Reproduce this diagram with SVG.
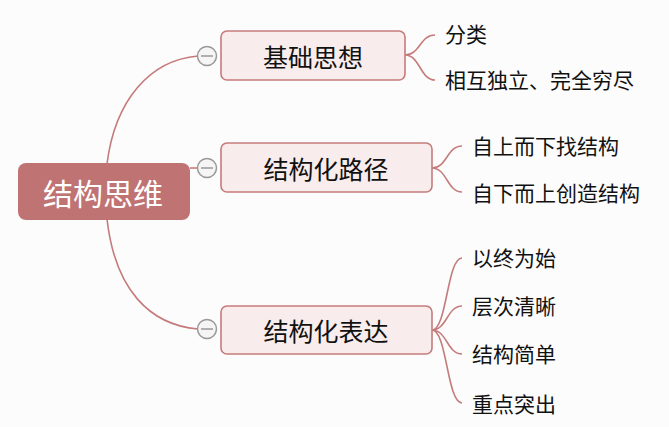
<svg xmlns="http://www.w3.org/2000/svg" width="669" height="427" viewBox="0 0 669 427">
<style>
.c{fill:none;stroke:#c57b7b;stroke-width:1.6}
.b{fill:#f8ecec;stroke:#c57b7b;stroke-width:1.6}
.t{font-family:"Noto Sans CJK SC",sans-serif;font-size:25px;fill:#111;text-anchor:middle;dominant-baseline:central}
.l{font-family:"Noto Sans CJK SC",sans-serif;font-size:21px;fill:#111;dominant-baseline:central}
.k{fill:#f5f5f5;stroke:#999;stroke-width:1.5}
</style>
<rect width="669" height="427" fill="#fcfcfc"/>
<g id="connectors">
<path class="c" d="M107,164 C115,100 150,60 198,56"/>
<path class="c" d="M190,168 L198,168"/>
<path class="c" d="M107,219 C115,290 150,325 198,329"/>
<path class="c" d="M405,55 C420,55 420,35 435,35 M405,55 C420,55 420,80 435,80"/>
<path class="c" d="M432,168 C447,168 447,146 462,146 M432,168 C447,168 447,192 462,192"/>
<path class="c" d="M432,330 C447,330 447,258 462,258 M432,330 C447,330 447,306 462,306 M432,330 C447,330 447,354 462,354 M432,330 C447,330 447,403 462,403"/>
</g>
<g id="root"><rect x="18" y="163" width="172" height="57" rx="8" fill="#c07373"/><text class="t" x="103" y="192" style="fill:#fff;font-size:30px">结构思维</text></g>
<g id="n1"><rect class="b" x="221" y="31" width="184" height="49" rx="6"/><text class="t" x="313" y="56">基础思想</text><circle class="k" cx="207" cy="56" r="9.5"/><path d="M201,56h12" stroke="#999" stroke-width="1.5"/></g>
<g id="n2"><rect class="b" x="221" y="143" width="211" height="49" rx="6"/><text class="t" x="326" y="168">结构化路径</text><circle class="k" cx="207" cy="168" r="9.5"/><path d="M201,168h12" stroke="#999" stroke-width="1.5"/></g>
<g id="n3"><rect class="b" x="221" y="306" width="211" height="48" rx="6"/><text class="t" x="326" y="330">结构化表达</text><circle class="k" cx="207" cy="329" r="9.5"/><path d="M201,329h12" stroke="#999" stroke-width="1.5"/></g>
<g id="leaves">
<text class="l" x="445" y="33">分类</text>
<text class="l" x="445" y="79">相互独立、完全穷尽</text>
<text class="l" x="472" y="145">自上而下找结构</text>
<text class="l" x="472" y="192">自下而上创造结构</text>
<text class="l" x="472" y="257">以终为始</text>
<text class="l" x="472" y="305">层次清晰</text>
<text class="l" x="472" y="353">结构简单</text>
<text class="l" x="472" y="403">重点突出</text>
</g>
</svg>
